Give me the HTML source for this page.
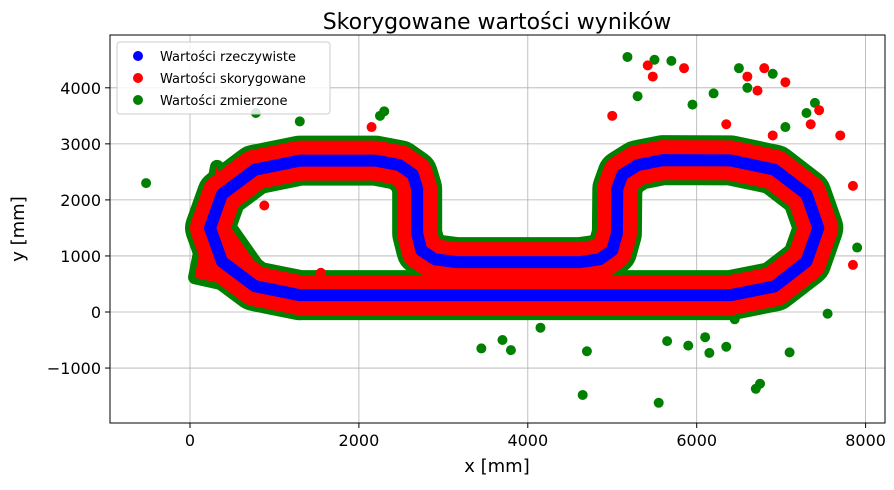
<!DOCTYPE html>
<html><head><meta charset="utf-8"><style>
body{margin:0;background:#fff;font-family:"Liberation Sans","DejaVu Sans",sans-serif}
svg text{font-family:"DejaVu Sans","Liberation Sans",sans-serif}
</style></head><body>
<svg id="chart" width="894" height="485" viewBox="0 0 894 485">
<g id="grid"></g>
<g id="marks"></g>
<rect x="110" y="35" width="775" height="388" fill="none" stroke="#000" stroke-width="1"/>
<g id="ticks"></g>
<text x="497" y="29" font-size="22" text-anchor="middle">Skorygowane wartości wyników</text>
<text x="497" y="472" font-size="18" text-anchor="middle">x [mm]</text>
<text transform="translate(24,229) rotate(-90)" font-size="18" text-anchor="middle">y [mm]</text>
<g>
<rect x="117" y="42" width="213" height="72" rx="3" fill="#fff" fill-opacity="0.85" stroke="#ccc"/>
<g><circle cx="138" cy="56" r="5" fill="blue"/><text x="160" y="61" font-size="13">Wartości rzeczywiste</text></g>
<g><circle cx="138" cy="78" r="5" fill="red"/><text x="160" y="83" font-size="13">Wartości skorygowane</text></g>
<g><circle cx="138" cy="100" r="5" fill="green"/><text x="160" y="105" font-size="13">Wartości zmierzone</text></g>
</g>
</svg>
<script>
const xTicks=[0,2000,4000,6000,8000];
const yTicks=[-1000,0,1000,2000,3000,4000];
const pathX=[1300,3500,6400,6920,7300,7440,7300,6920,6400,5600,5300,5120,5060,5055,5000,4850,4620,3160,2900,2740,2690,2690,2640,2480,2200,1300,768,379,237,379,768,1300];
const pathY=[300,300,300,456,898,1500,2100,2540,2705,2710,2620,2450,2200,1400,1100,940,890,890,940,1100,1400,2200,2450,2620,2700,2700,2539,2100,1500,900,461,300];
const leftFillX=[60,320,480,830,1300];
const leftFillY=[620,2590,1500,750,200];
const greenX=[-520,780,1300,2250,2300,3450,3700,3800,4150,4650,4700,5180,5300,5500,5550,5650,5700,5900,6150,6200,6350,6500,6600,6700,6750,6900,7100,7300,7400,7550,7900,6100,6450,7050,5950];
const greenY=[2300,3550,3400,3500,3580,-650,-500,-680,-280,-1480,-700,4550,3850,4500,-1620,-520,4480,-600,-730,3900,-620,4350,4000,-1370,-1280,4250,-720,3550,3730,-30,1150,-450,-130,3300,3700];
const redX=[880,2150,5000,5420,5480,5850,6350,6600,6800,6900,7050,7350,7450,7700,7850,7850,6720,1550];
const redY=[1900,3300,3500,4400,4200,4350,3350,4200,4350,3150,4100,3350,3600,3150,2250,840,3950,700];
function sx(v){return 190+(v)*0.08445;}
function sy(v){return 312-(v)*0.05605;}
const NS="http://www.w3.org/2000/svg";
const grid=document.getElementById('grid'),ticks=document.getElementById('ticks'),marks=document.getElementById('marks');
xTicks.forEach(t=>{const x=sx(t);
 const l=document.createElementNS(NS,'line');l.setAttribute('x1',x);l.setAttribute('x2',x);l.setAttribute('y1',35);l.setAttribute('y2',423);l.setAttribute('stroke','#b0b0b0');l.setAttribute('stroke-width','0.8');
 
 grid.appendChild(l);
 const k=document.createElementNS(NS,'line');k.setAttribute('x1',x);k.setAttribute('x2',x);k.setAttribute('y1',423);k.setAttribute('y2',428);k.setAttribute('stroke','#000');ticks.appendChild(k);
 const tx=document.createElementNS(NS,'text');tx.setAttribute('x',x);tx.setAttribute('y',446);tx.setAttribute('font-size','16');tx.setAttribute('text-anchor','middle');tx.textContent=t;
 
 ticks.appendChild(tx);});
yTicks.forEach(t=>{const y=sy(t);
 const l=document.createElementNS(NS,'line');l.setAttribute('x1',110);l.setAttribute('x2',885);l.setAttribute('y1',y);l.setAttribute('y2',y);l.setAttribute('stroke','#b0b0b0');l.setAttribute('stroke-width','0.8');
 
 grid.appendChild(l);
 const k=document.createElementNS(NS,'line');k.setAttribute('x1',105);k.setAttribute('x2',110);k.setAttribute('y1',y);k.setAttribute('y2',y);k.setAttribute('stroke','#000');ticks.appendChild(k);
 const tx=document.createElementNS(NS,'text');tx.setAttribute('x',101);tx.setAttribute('y',y+6);tx.setAttribute('font-size','16');tx.setAttribute('text-anchor','end');tx.textContent=(t<0?'\u2212'+(-t):t);
 
 ticks.appendChild(tx);});
const pts=pathX.map((v,i)=>sx(v)+','+sy(pathY[i])).join(' ');
function band(color,w,name){const p=document.createElementNS(NS,'polyline');p.setAttribute('points',pts);p.setAttribute('fill','none');p.setAttribute('stroke',color);p.setAttribute('stroke-width',w);p.setAttribute('stroke-linejoin','round');p.setAttribute('stroke-linecap','round');
 
 marks.appendChild(p);}
function fillPoly(color,sw,name){const p=document.createElementNS(NS,'polygon');p.setAttribute('points',leftFillX.map((v,i)=>sx(v)+','+sy(leftFillY[i])).join(' '));p.setAttribute('fill',color);p.setAttribute('stroke',color);p.setAttribute('stroke-width',sw);p.setAttribute('stroke-linejoin','round');
 
 marks.appendChild(p);}
function dots(xs,ys,color,name){xs.forEach((v,i)=>{const c=document.createElementNS(NS,'circle');c.setAttribute('cx',sx(v));c.setAttribute('cy',sy(ys[i]));c.setAttribute('r',5);c.setAttribute('fill',color);
 
 marks.appendChild(c);});}
dots(greenX,greenY,'green','measured-outlier');
fillPoly('green',14,'measured-left-cluster');
band('green',50,'measured-band');
dots(redX,redY,'red','corrected-outlier');
fillPoly('red',1,'corrected-left-cluster');
band('red',40,'corrected-band');
band('blue',12,'actual-path');
</script>
</body></html>
